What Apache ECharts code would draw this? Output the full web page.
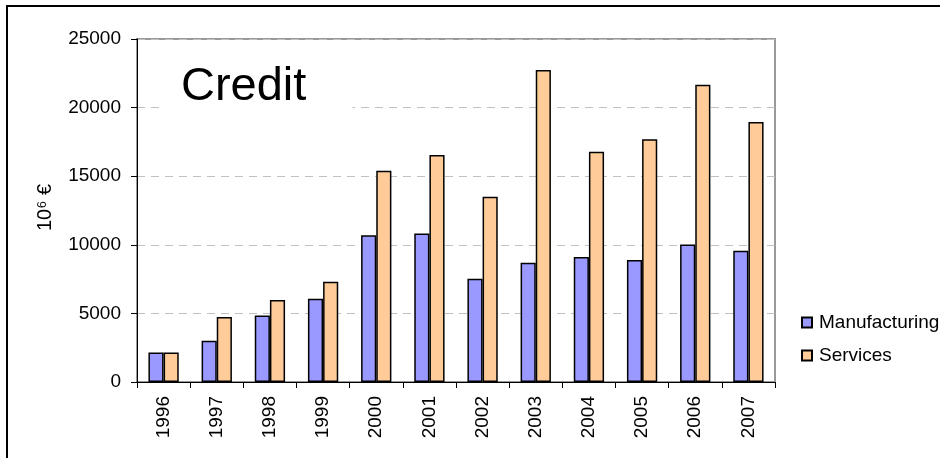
<!DOCTYPE html>
<html>
<head>
<meta charset="utf-8">
<script src="https://cdn.jsdelivr.net/npm/echarts@6/dist/echarts.min.js"></script>
<style>
  html, body { margin: 0; padding: 0; background: #fff; }
  #chart { width: 940px; height: 458px; }
</style>
</head>
<body>
<div id="chart"></div>
<script>
  const years = ["1996", "1997", "1998", "1999", "2000", "2001", "2002", "2003", "2004", "2005", "2006", "2007"];
  const manufacturing = [2150, 3000, 4850, 6070, 10700, 10830, 7530, 8700, 9110, 8890, 10030, 9570];
  const services = [2150, 4740, 5980, 7310, 15400, 16550, 13510, 22740, 16790, 17690, 21670, 18950];
  const yTicks = { min: 0, max: 25000, interval: 5000 };

  const font = "Liberation Sans, Arial, sans-serif";
  const myChart = echarts.init(document.getElementById("chart"));

  const option = {
    animation: false,
    backgroundColor: "#fff",
    textStyle: { fontFamily: font, color: "#000" },
    title: {
      text: "Credit",
      left: 160,
      top: 60,
      padding: [4, 46, 4, 21],
      backgroundColor: "#fff",
      textStyle: { fontSize: 47, fontWeight: "normal", color: "#000", fontFamily: font },
    },
    legend: {
      orient: "vertical",
      left: 801,
      top: 313,
      padding: 0,
      itemWidth: 10,
      itemHeight: 10,
      itemGap: 14,
      icon: "rect",
      textStyle: { fontSize: 19, color: "#000", fontFamily: font, padding: [0, 0, 0, 2] },
      data: ["Manufacturing", "Services"],
    },
    grid: {
      left: 137,
      right: 165,
      top: 39,
      bottom: 76,
      show: true,
      borderColor: "#999",
      borderWidth: 2,
    },
    graphic: [
      {
        type: "rect",
        shape: { x: 7, y: 6, width: 1000, height: 500 },
        style: { fill: "none", stroke: "#000", lineWidth: 2 },
        silent: true,
      },
    ],
    xAxis: {
      type: "category",
      data: years,
      axisLine: { lineStyle: { color: "#000", width: 1 } },
      axisTick: { show: true, length: 6, lineStyle: { color: "#000" } },
      axisLabel: { rotate: 90, fontSize: 19, color: "#000", margin: 14, fontFamily: font },
    },
    yAxis: {
      type: "value",
      min: yTicks.min,
      max: yTicks.max,
      interval: yTicks.interval,
      name: "10\u2076 €",
      nameLocation: "middle",
      nameGap: 82,
      nameRotate: 90,
      nameTextStyle: { fontSize: 20, fontFamily: font, color: "#000", padding: [0, 0, 0, 6] },
      axisLine: { show: true, lineStyle: { color: "#000", width: 1 } },
      axisTick: { show: true, length: 6, lineStyle: { color: "#000" } },
      axisLabel: { fontSize: 19, color: "#000", margin: 16, fontFamily: font, formatter: (v) => String(v) },
      splitLine: { show: true, lineStyle: { color: "#c0c0c0", type: [8, 6], width: 1 } },
    },
    series: [
      {
        name: "Manufacturing",
        type: "bar",
        data: manufacturing,
        barGap: "0%",
        barCategoryGap: "43%",
        itemStyle: { color: "#9999ff", borderColor: "#000", borderWidth: 1.5 },
      },
      {
        name: "Services",
        type: "bar",
        data: services,
        barGap: "0%",
        barCategoryGap: "43%",
        itemStyle: { color: "#ffcc99", borderColor: "#000", borderWidth: 1.5 },
      },
    ],
  };
  myChart.setOption(option);
</script>
</body>
</html>
